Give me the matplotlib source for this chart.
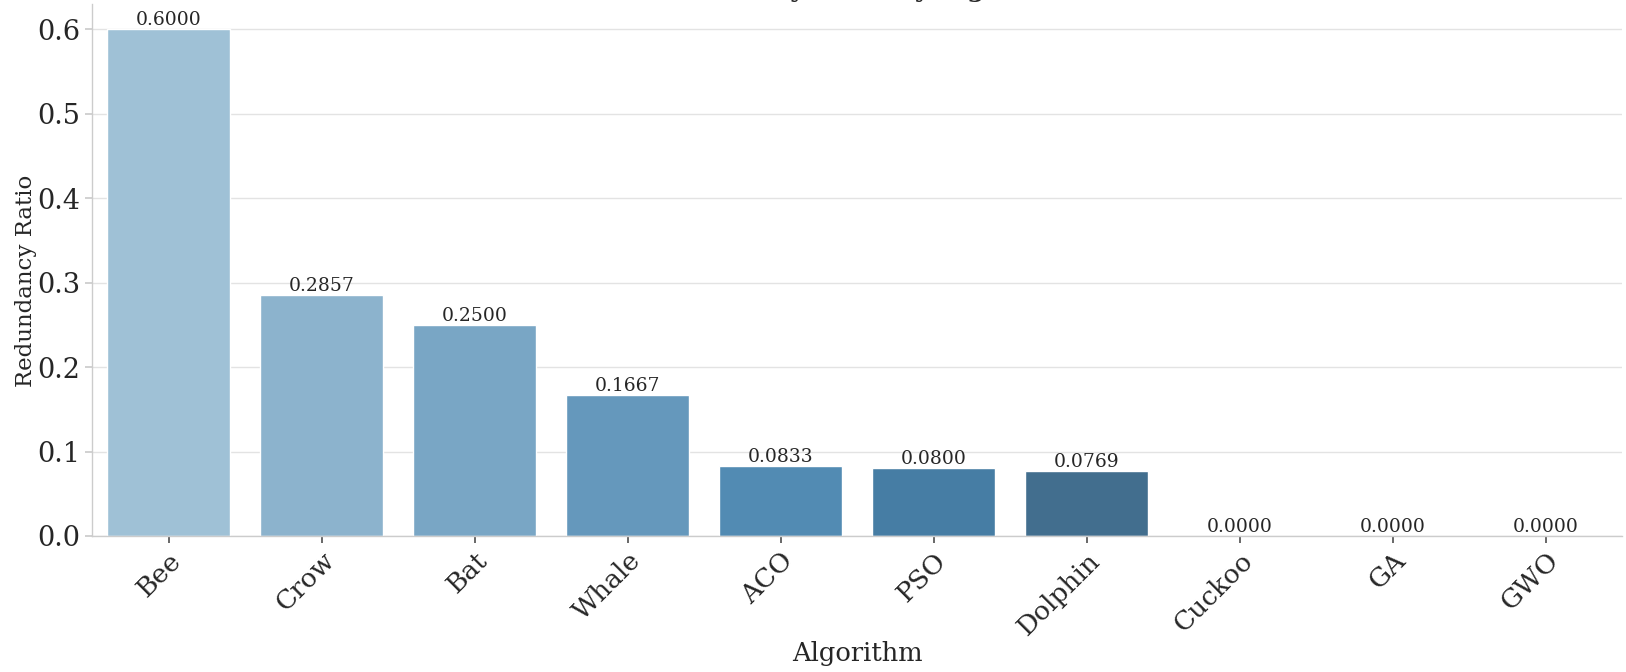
import matplotlib
matplotlib.use('Agg')
import matplotlib.pyplot as plt
import seaborn as sns

## Data
algorithms = ['Bee', 'Crow', 'Bat', 'Whale', 'ACO', 'PSO', 'Dolphin', 'Cuckoo', 'GA', 'GWO']
redundancy = [0.6000, 0.2857, 0.2500, 0.1667, 0.0833, 0.0800, 0.0769, 0.0, 0.0, 0.0]

sns.set_theme(style='whitegrid')
plt.rcParams['font.family'] = ['DejaVu Serif']

fig = plt.figure(figsize=(16.26, 6.72), dpi=100)
ax = fig.add_axes([0.0566, 0.2024, 0.941, 0.792])

colors = sns.color_palette('Blues_d', len(algorithms))
sns.barplot(x=algorithms, y=redundancy, hue=algorithms, palette=colors,
            legend=False, ax=ax, saturation=0.75)

for i, v in enumerate(redundancy):
    ax.text(i, v, f'{v:.4f}', ha='center', va='bottom', fontsize=13.5, color='#262626')

ax.set_xlim(-0.5, len(algorithms) - 0.5)
ax.set_ylim(0, 0.63)
ax.set_yticks([0.0, 0.1, 0.2, 0.3, 0.4, 0.5, 0.6])
ax.tick_params(axis='y', labelsize=19.5, length=5, color='#cccccc', left=True)
ax.tick_params(axis='x', labelsize=19, length=5, color='#555555', bottom=True)
plt.setp(ax.get_xticklabels(), rotation=45, ha='right', rotation_mode='anchor')

ax.grid(axis='x', visible=False)
ax.grid(axis='y', color='#e3e3e3', linewidth=1)
ax.set_axisbelow(True)
for s in ['top', 'right']:
    ax.spines[s].set_visible(False)
for s in ['left', 'bottom']:
    ax.spines[s].set_color('#cccccc')
    ax.spines[s].set_linewidth(1)

ax.set_xlabel('Algorithm', fontsize=18.5, color='#262626', labelpad=1)
ax.set_ylabel('Redundancy Ratio', fontsize=16.5, color='#262626')
ax.yaxis.set_label_coords(-0.036, 0.48)

# title sits above the visible canvas, only its descenders peek in
fig.text(0.527, 1.004, 'Redundancy Ratio by Algorithm', ha='center', va='baseline',
         fontsize=18, fontweight='bold', color='#262626')

fig.savefig('out.png', dpi=100)
